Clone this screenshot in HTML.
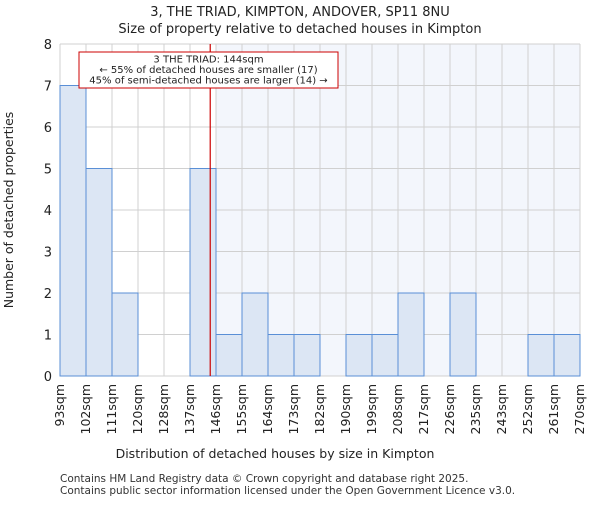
<!DOCTYPE html>
<html><head><meta charset="utf-8"><style>
body{margin:0;background:#fff;}
svg{font-family:"DejaVu Sans","Liberation Sans",sans-serif;}
</style></head><body>
<svg id="chart" width="600" height="500" viewBox="0 0 600 500">
<text x="300" y="16" text-anchor="middle" font-size="13" fill="#222">3, THE TRIAD, KIMPTON, ANDOVER, SP11 8NU</text>
<text x="300" y="33" text-anchor="middle" font-size="13" fill="#222">Size of property relative to detached houses in Kimpton</text>
<g id="plot"></g>
<text x="275" y="458" text-anchor="middle" font-size="12.5" fill="#222">Distribution of detached houses by size in Kimpton</text>
<text transform="translate(13,210) rotate(-90)" text-anchor="middle" font-size="12.5" fill="#222">Number of detached properties</text>
<text x="60" y="482" font-size="10.5" fill="#333">Contains HM Land Registry data © Crown copyright and database right 2025.</text>
<text x="60" y="494" font-size="10.5" fill="#333">Contains public sector information licensed under the Open Government Licence v3.0.</text>
</svg>
<script>
const binLabels=["93sqm","102sqm","111sqm","120sqm","128sqm","137sqm","146sqm","155sqm","164sqm","173sqm","182sqm","190sqm","199sqm","208sqm","217sqm","226sqm","235sqm","243sqm","252sqm","261sqm","270sqm"];
const counts=[7,5,2,0,0,5,1,2,1,1,0,1,1,2,0,2,0,0,1,1];
const yTicks=[0,1,2,3,4,5,6,7,8];
const propertyBinPos=5+7/9; // 144sqm within 137-146 bin
const shadeFromBin=6;
const NS="http://www.w3.org/2000/svg";
const L=60,R=580,T=44,B=376,yMax=8;
const bw=(R-L)/counts.length;
const xs=i=>L+i*bw;
const ys=v=>B-(B-T)*v/yMax;
const g=document.getElementById('plot');
function mk(t,a){const e=document.createElementNS(NS,t);for(const k in a)e.setAttribute(k,a[k]);g.appendChild(e);return e;}
let e;
e=mk('rect',{x:xs(shadeFromBin),y:T,width:R-xs(shadeFromBin),height:B-T,fill:'#f3f6fc'});


for(let i=0;i<=counts.length;i++){e=mk('line',{x1:xs(i),x2:xs(i),y1:T,y2:B,stroke:'#d0d0d0','stroke-width':1});

}
yTicks.forEach(v=>{e=mk('line',{x1:L,x2:R,y1:ys(v),y2:ys(v),stroke:'#d0d0d0','stroke-width':1});


const t=mk('text',{x:L-8,y:ys(v)+5,'text-anchor':'end','font-size':13,fill:'#222'});t.textContent=v;

});
counts.forEach((c,i)=>{if(c<=0)return;e=mk('rect',{x:xs(i),y:ys(c),width:bw,height:B-ys(c),fill:'#dce6f4',stroke:'#5a8fd6','stroke-width':1});

});
binLabels.forEach((l,i)=>{const x=xs(i)+4;const t=mk('text',{x:x,y:B+8,'text-anchor':'end','font-size':12.5,fill:'#222',transform:`rotate(-90 ${x} ${B+8})`});t.textContent=l;

});
const px=xs(propertyBinPos);
e=mk('line',{x1:px,x2:px,y1:T,y2:B,stroke:'#cc0000','stroke-width':1.2});


e=mk('rect',{x:79,y:52,width:259,height:36,fill:'#fff',stroke:'#cc0000','stroke-width':1});


["3 THE TRIAD: 144sqm","← 55% of detached houses are smaller (17)","45% of semi-detached houses are larger (14) →"].forEach((s,i)=>{const t=mk('text',{x:208.5,y:62.5+i*10.5,'text-anchor':'middle','font-size':10,fill:'#222'});t.textContent=s;

});
</script>
</body></html>
